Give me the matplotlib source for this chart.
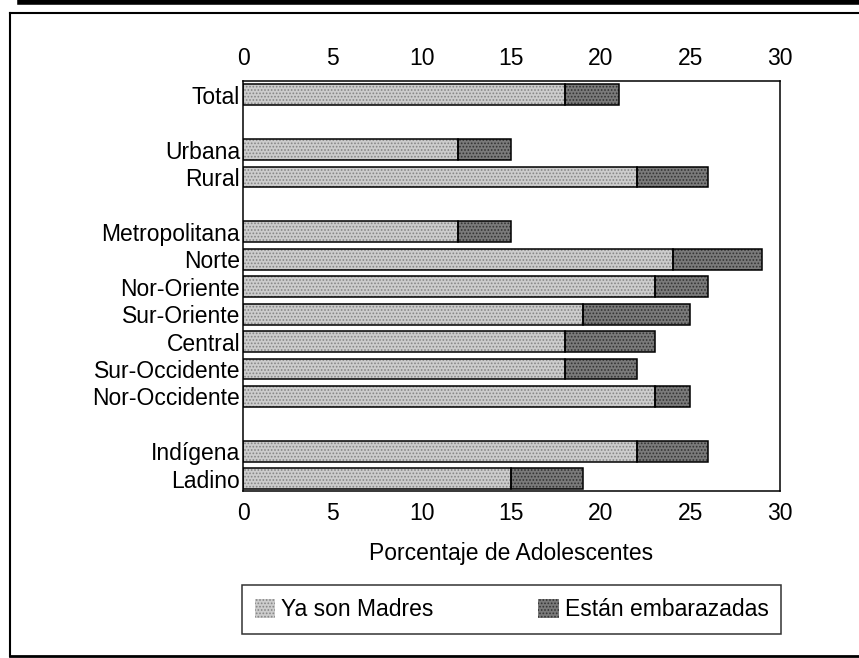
import matplotlib
matplotlib.use('Agg')
import matplotlib.pyplot as plt
from matplotlib.patches import Patch
from matplotlib.lines import Line2D

plt.rcParams['font.family'] = ['Liberation Sans', 'DejaVu Sans']
plt.rcParams['hatch.linewidth'] = 0.8

# datos
categorias = ["Total", "Urbana", "Rural", "Metropolitana", "Norte", "Nor-Oriente",
              "Sur-Oriente", "Central", "Sur-Occidente", "Nor-Occidente",
              "Indígena", "Ladino"]
posiciones = [0, 2, 3, 5, 6, 7, 8, 9, 10, 11, 13, 14]
ya_madres = [18, 12, 22, 12, 24, 23, 19, 18, 18, 23, 22, 15]
embarazadas = [3, 3, 4, 3, 5, 3, 6, 5, 4, 2, 4, 4]
ticks_x = [0, 5, 10, 15, 20, 25, 30]

c_madres, h_madres = '#cccccc', '#858585'
c_emb, h_emb = '#7a7a7a', '#333333'
fs = 16.5

fig = plt.figure(figsize=(8.59, 6.58), dpi=100)
ax = fig.add_axes([243 / 859, 1 - 491 / 658, 537 / 859, 410 / 658])

alto = 0.76
# capa de color + punteado
ax.barh(posiciones, ya_madres, height=alto, color=c_madres, hatch='.....',
        edgecolor=h_madres, linewidth=0)
ax.barh(posiciones, embarazadas, left=ya_madres, height=alto, color=c_emb,
        hatch='.....', edgecolor=h_emb, linewidth=0)
# contornos negros
ax.barh(posiciones, ya_madres, height=alto, fill=False, edgecolor='black', linewidth=1.1)
ax.barh(posiciones, embarazadas, left=ya_madres, height=alto, fill=False,
        edgecolor='black', linewidth=1.1)

ax.set_xlim(0, 30)
ax.set_ylim(14.45, -0.5)
ax.set_yticks(posiciones)
ax.set_yticklabels(categorias, fontsize=fs)
ax.set_xticks(ticks_x)
ax.tick_params(axis='x', top=True, labeltop=True, length=0, pad=8, labelsize=fs)
ax.tick_params(axis='y', length=0, pad=2)
for s in ax.spines.values():
    s.set_linewidth(1.1)
ax.set_xlabel("Porcentaje de Adolescentes", fontsize=fs, labelpad=12)

handles = [Patch(facecolor=c_madres, edgecolor=h_madres, hatch='.....', linewidth=0),
           Patch(facecolor=c_emb, edgecolor=h_emb, hatch='.....', linewidth=0)]
leg = fig.legend(handles, ["Ya son Madres", "Están embarazadas"], ncol=2,
                 loc='center', mode='expand',
                 bbox_to_anchor=(242 / 859, 1 - 636 / 658, 539 / 859, 53 / 658),
                 fontsize=fs, frameon=True, fancybox=False, edgecolor='black',
                 handlelength=0.9, handleheight=0.9, handletextpad=0.25,
                 borderpad=0.55, borderaxespad=0)
leg.get_frame().set_linewidth(1.1)

# marco exterior
fig.add_artist(Line2D([20 / 859, 1], [1 - 2 / 658] * 2, color='black', linewidth=4))
fig.add_artist(Line2D([10 / 859, 1], [1 - 13 / 658] * 2, color='black', linewidth=1.5))
fig.add_artist(Line2D([10 / 859] * 2, [1 - 13 / 658, 1 - 656 / 658], color='black', linewidth=1.5))
fig.add_artist(Line2D([10 / 859, 1], [1 - 656 / 658] * 2, color='black', linewidth=2))

fig.savefig('out.png', dpi=100)
